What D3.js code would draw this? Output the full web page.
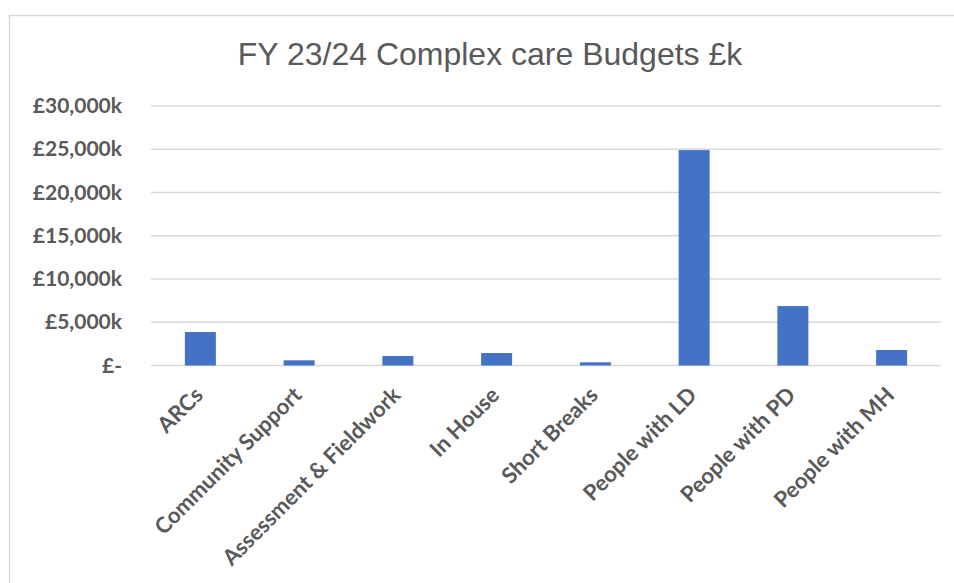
<!DOCTYPE html>
<html>
<head>
<meta charset="utf-8">
<script src="https://cdn.jsdelivr.net/npm/d3@7"></script>
<style>
  body { margin: 0; background: #fff; }
  text { fill: #595959; }
</style>
</head>
<body>
<div class="container"></div>
<script>
const categories = ["ARCs", "Community Support", "Assessment & Fieldwork", "In House",
                    "Short Breaks", "People with LD", "People with PD", "People with MH"]
const budgets = [3870, 600, 1100, 1440, 370, 24900, 6870, 1790]
const yTicks = [0, 5000, 10000, 15000, 20000, 25000, 30000]
const title = "FY 23/24 Complex care Budgets £k"

const width = 954, height = 583
const margin = {top: 106, right: 13, bottom: 217.5, left: 151}

const svg = d3.select(".container")
              .append("svg")
              .attr("width", width)
              .attr("height", height)

// chart frame (cropped on the right and bottom)
svg.append("path")
   .attr("d", `M9.5,${height}V15.5H${width}`)
   .attr("fill", "none")
   .attr("stroke", "#d9d9d9")
   .attr("stroke-width", 1.5)

svg.append("text")
   .attr("x", 490)
   .attr("y", 65)
   .attr("text-anchor", "middle")
   .style("font-family", "'Liberation Sans', Arial, sans-serif")
   .style("font-size", "32px")
   .text(title)

const x = d3.scaleBand()
            .domain(categories)
            .range([margin.left, width - margin.right])
            .paddingInner(0.686)
            .paddingOuter(0.343)

const y = d3.scaleLinear()
            .domain([0, 30000])
            .range([height - margin.bottom, margin.top])

const fmt = (v)=>{
    if(v === 0){
        return "£-"
    }
    return "£" + d3.format(",")(v) + "k"
}

// gridlines
svg.append("g")
   .selectAll("line")
   .data(yTicks)
   .enter()
   .append("line")
   .attr("x1", margin.left)
   .attr("x2", width - margin.right)
   .attr("y1", (d)=> y(d))
   .attr("y2", (d)=> y(d))
   .attr("stroke", "#d9d9d9")
   .attr("stroke-width", 1.5)

// y axis labels
const yAxis = d3.axisLeft(y)
                .tickValues(yTicks)
                .tickFormat(fmt)
                .tickSize(0)
                .tickPadding(29)

svg.append("g")
   .attr("transform", `translate(${margin.left},0)`)
   .call(yAxis)
   .call(g => g.select(".domain").remove())
   .selectAll("text")
   .style("font-family", "Lato, 'Open Sans', sans-serif")
   .style("font-weight", "bold")
   .style("font-size", "21px")
   .style("fill", "#595959")

// bars
svg.selectAll("rect.bar")
   .data(budgets)
   .enter()
   .append("rect")
   .attr("class", "bar")
   .attr("x", (d, i)=> x(categories[i]))
   .attr("width", x.bandwidth())
   .attr("y", (d)=> y(d))
   .attr("height", (d)=> y(0) - y(d))
   .attr("fill", "#4472c4")

// x axis labels
const xAxis = d3.axisBottom(x)
                .tickSize(0)
                .tickPadding(0)

svg.append("g")
   .attr("transform", `translate(0,${y(0)})`)
   .call(xAxis)
   .call(g => g.select(".domain").remove())
   .selectAll("text")
   .style("font-family", "Lato, 'Open Sans', sans-serif")
   .style("font-weight", "bold")
   .style("font-size", "22px")
   .style("fill", "#595959")
   .attr("text-anchor", "end")
   .attr("dy", null)
   .attr("y", 0)
   .attr("transform", "translate(4,31) rotate(-45)")
</script>
</body>
</html>
